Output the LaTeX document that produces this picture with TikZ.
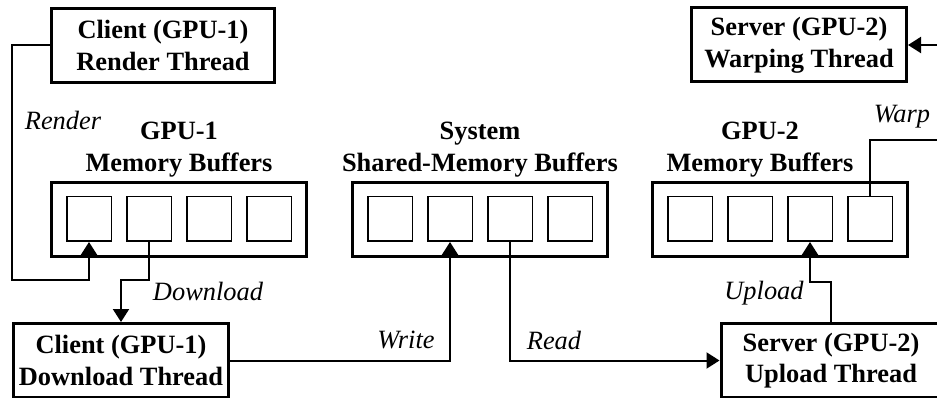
\documentclass[tikz,border=0pt]{standalone}
\usepackage{fontspec}
\setmainfont{Liberation Serif}
\usetikzlibrary{positioning, arrows.meta}
\newcommand{\diagsize}{\fontsize{26.4}{31.7}\selectfont}
\tikzstyle{thread} = [rectangle, draw=black, line width=3pt, minimum width=215pt, minimum height=74pt, align=center, inner sep=0pt, font=\diagsize\bfseries]
\tikzstyle{pool} = [rectangle, draw=black, line width=3pt, minimum width=255pt, minimum height=74pt]
\tikzstyle{buffer} = [rectangle, draw=black, line width=1.5pt, minimum size=44.5pt, inner sep=0pt]
\tikzstyle{title} = [align=center, inner sep=0pt, font=\diagsize\bfseries]
\tikzstyle{action} = [inner sep=0pt, font=\diagsize\itshape]
\tikzstyle{arrow} = [line width=2pt, -{Triangle[length=13pt, width=16pt]}]

\begin{document}
\begin{tikzpicture}[x=1pt, y=-1pt, node distance=14pt]
	\useasboundingbox (0,0) rectangle (937,398);
	\clip (0,0) rectangle (937,398);

	\node (render) [thread, minimum width=223pt] at (163,45.5) {Client (GPU-1)\\Render Thread};
	\node (warping) [thread] at (799,45) {Server (GPU-2)\\Warping Thread};
	\node (download) [thread] at (121,360.5) {Client (GPU-1)\\Download Thread};
	\node (upload) [thread, minimum width=220pt] at (831,360.5) {Server (GPU-2)\\Upload Thread};

	\node (gpuone) [pool] at (179,219.5) {};
	\node (shared) [pool] at (480,219.5) {};
	\node (gputwo) [pool] at (780,219.5) {};

	\node (gpuonetitle) [title, above=4pt of gpuone] {GPU-1\\Memory Buffers};
	\node (sharedtitle) [title, above=4pt of shared] {System\\Shared-Memory Buffers};
	\node (gputwotitle) [title, above=4pt of gputwo, xshift=-20pt] {GPU-2\\Memory Buffers};

	\node (b11) [buffer] at (89,219) {};
	\node (b12) [buffer, right=of b11] {};
	\node (b13) [buffer, right=of b12] {};
	\node (b14) [buffer, right=of b13] {};

	\node (b21) [buffer] at (390,219) {};
	\node (b22) [buffer, right=of b21] {};
	\node (b23) [buffer, right=of b22] {};
	\node (b24) [buffer, right=of b23] {};

	\node (b31) [buffer] at (690,219) {};
	\node (b32) [buffer, right=of b31] {};
	\node (b33) [buffer, right=of b32] {};
	\node (b34) [buffer, right=of b33] {};

	\draw [arrow] (render.west) -- ++(-38,0) |- ([yshift=-38pt]b11.south) -- (b11.south);
	\draw [arrow] (b12.south) -- ++(0,38) -| (download.north);
	\draw [arrow] (download.east) -| (b22.south);
	\draw [arrow] (b23.south) |- (upload.west);
	\draw [arrow] (upload.north) -- ++(0,-40) -| (b33.south);
	\draw [arrow] (b34.north) |- ++(80,-56) |- (warping.east);

	\node (rendertag) [action] at (63,120) {Render};
	\node (downloadtag) [action] at (208,291) {Download};
	\node (writetag) [action] at (406,340) {Write};
	\node (readtag) [action] at (554,340) {Read};
	\node (uploadtag) [action] at (764,293) {Upload};
	\node (warptag) [action] at (902,117) {Warp};
\end{tikzpicture}
\end{document}
